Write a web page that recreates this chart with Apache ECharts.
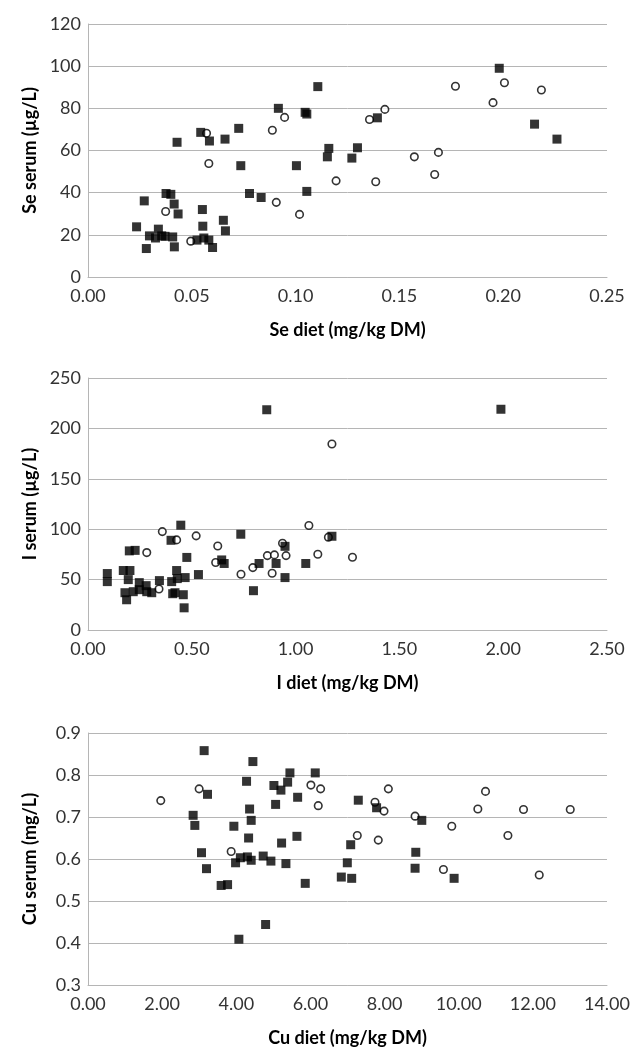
<!DOCTYPE html>
<html>
<head>
<meta charset="utf-8">
<script src="https://cdn.jsdelivr.net/npm/echarts@6/dist/echarts.min.js"></script>
<style>
html,body{margin:0;padding:0;background:#fff;}
#chart{width:633px;height:1048px;}
</style>
</head>
<body>
<div id="chart"></div>
<script>
// ---- Data (x = diet, y = serum) ----
const seSquares = [[0.0234,23.8],[0.0271,36.1],[0.0281,13.5],[0.0296,19.5],[0.0325,18.5],[0.0339,22.7],[0.0355,19.5],[0.0371,19.3],[0.0376,39.6],[0.0399,39.2],[0.0408,19.0],[0.0415,34.6],[0.0416,14.3],[0.0429,63.9],[0.0434,29.9],[0.0543,68.6],[0.0551,32.0],[0.0553,24.1],[0.0525,17.5],[0.0558,18.5],[0.0582,17.5],[0.0600,14.0],[0.0585,64.5],[0.0652,26.9],[0.0662,21.9],[0.0660,65.4],[0.0726,70.5],[0.0736,52.8],[0.0778,39.6],[0.0834,37.7],[0.0917,80.0],[0.1004,52.8],[0.1046,78.1],[0.1054,77.3],[0.1054,40.6],[0.1107,90.3],[0.1153,57.0],[0.1160,61.0],[0.1271,56.4],[0.1298,61.3],[0.1394,75.5],[0.1981,99.0],[0.2151,72.5],[0.2259,65.4]];
const seCircles = [[0.0374,31.1],[0.0495,17.0],[0.0571,68.2],[0.0582,53.8],[0.0888,69.6],[0.0907,35.4],[0.0947,75.7],[0.1019,29.7],[0.1195,45.6],[0.1356,74.7],[0.1386,45.2],[0.1430,79.5],[0.1572,57.0],[0.1670,48.6],[0.1688,59.1],[0.1770,90.5],[0.1951,82.7],[0.2006,92.1],[0.2184,88.7]];

const iSquares = [[0.093,56],[0.093,48],[0.170,59],[0.202,59],[0.199,78.5],[0.227,79],[0.194,50],[0.178,37],[0.186,30],[0.218,38],[0.247,47],[0.247,40],[0.280,44],[0.283,38],[0.307,37],[0.344,49],[0.400,89],[0.447,104],[0.403,48],[0.408,36],[0.427,59],[0.430,51],[0.419,37],[0.459,35],[0.463,22],[0.468,52],[0.476,72],[0.532,55],[0.644,69.5],[0.656,66],[0.736,95],[0.797,39],[0.824,66],[0.906,66],[0.949,83],[0.949,52],[1.049,66],[1.175,93],[0.861,218.5],[1.989,219]];
const iCircles = [[0.283,76.8],[0.342,40.7],[0.358,97.6],[0.427,89.4],[0.521,93.4],[0.615,66.9],[0.625,83.4],[0.737,55.3],[0.794,61.9],[0.864,73.8],[0.887,56.3],[0.898,74.5],[0.937,86.1],[0.954,73.8],[1.064,103.6],[1.107,75.2],[1.158,92.1],[1.175,184.5],[1.274,72.2]];

const cuSquares = [[3.133,0.858],[4.448,0.832],[4.277,0.785],[3.224,0.754],[2.836,0.704],[2.882,0.680],[3.062,0.615],[3.197,0.577],[3.935,0.678],[4.359,0.719],[4.402,0.692],[4.332,0.650],[3.981,0.591],[4.110,0.603],[4.300,0.605],[4.402,0.597],[3.592,0.537],[3.765,0.539],[4.726,0.607],[4.934,0.595],[5.339,0.589],[4.791,0.444],[4.070,0.409],[5.015,0.775],[5.204,0.764],[5.385,0.783],[5.447,0.805],[6.130,0.805],[5.061,0.730],[5.655,0.747],[5.222,0.638],[5.636,0.654],[5.860,0.542],[7.291,0.740],[7.086,0.634],[6.995,0.591],[6.833,0.557],[7.113,0.554],[7.785,0.722],[9.004,0.692],[8.842,0.616],[8.823,0.578],[9.876,0.554]];
const cuCircles = [[1.963,0.739],[2.998,0.767],[3.862,0.618],[6.013,0.776],[6.275,0.767],[6.211,0.727],[7.264,0.656],[7.742,0.735],[7.830,0.645],[8.102,0.767],[7.985,0.714],[8.823,0.702],[9.813,0.678],[9.588,0.575],[10.516,0.719],[10.723,0.761],[11.327,0.656],[11.748,0.718],[12.172,0.562],[13.009,0.718]];

// ---- Axis definitions ----
const xNames = ['Se diet (mg/kg DM)', 'I diet (mg/kg DM)', 'Cu diet (mg/kg DM)'];
const yNames = ['Se serum (µg/L)', 'I serum (µg/L)', 'Cu serum (mg/L)'];
const xRanges = [[0, 0.25, 0.05], [0, 2.5, 0.5], [0, 14, 2]];
const yRanges = [[0, 120, 20], [0, 250, 50], [0.3, 0.9, 0.1]];
const yDecimals = [0, 0, 1];

const FONT = 'Lato, "Open Sans", sans-serif';
const LINE = '#b5b5b5';

const grids = [
  {left: 88, top: 24, width: 519, height: 253},
  {left: 88, top: 378, width: 519, height: 252},
  {left: 88, top: 733, width: 519, height: 253}
];

const xAxes = xRanges.map((r, i) => ({
  type: 'value', gridIndex: i, min: r[0], max: r[1], interval: r[2],
  name: xNames[i], nameLocation: 'middle', nameGap: 44,
  nameTextStyle: {fontFamily: FONT, fontSize: 18, fontWeight: 'bold', color: '#000'},
  axisLine: {show: true, lineStyle: {color: LINE, width: 1}},
  axisTick: {show: false},
  splitLine: {show: false},
  axisLabel: {fontFamily: FONT, fontSize: 18, color: '#333', margin: 10,
    formatter: v => v.toFixed(2)}
}));

const yAxes = yRanges.map((r, i) => ({
  type: 'value', gridIndex: i, min: r[0], max: r[1], interval: r[2],
  name: yNames[i], nameLocation: 'middle', nameGap: 49, nameRotate: 90,
  nameTextStyle: {fontFamily: FONT, fontSize: 18, fontWeight: 'bold', color: '#000'},
  axisLine: {show: true, lineStyle: {color: LINE, width: 1}},
  axisTick: {show: false},
  splitLine: {show: true, lineStyle: {color: LINE, width: 1}},
  axisLabel: {fontFamily: FONT, fontSize: 18, color: '#333', margin: 7,
    formatter: v => v.toFixed(yDecimals[i])}
}));

const circleStyle = {color: '#fff', borderColor: '#000', borderWidth: 1.6};
const squareStyle = {color: '#000'};

const pairs = [[seCircles, seSquares], [iCircles, iSquares], [cuCircles, cuSquares]];
const series = [];
pairs.forEach((p, i) => {
  series.push({type: 'scatter', xAxisIndex: i, yAxisIndex: i, data: p[0],
    symbol: 'circle', symbolSize: 7.5, itemStyle: circleStyle, z: 2, silent: true});
  series.push({type: 'scatter', xAxisIndex: i, yAxisIndex: i, data: p[1],
    symbol: 'rect', symbolSize: 9, itemStyle: squareStyle, z: 3, silent: true});
});

const chart = echarts.init(document.getElementById('chart'), null, {renderer: 'canvas'});
chart.setOption({
  animation: false,
  backgroundColor: '#fff',
  grid: grids,
  xAxis: xAxes,
  yAxis: yAxes,
  series: series
});
</script>
</body>
</html>
